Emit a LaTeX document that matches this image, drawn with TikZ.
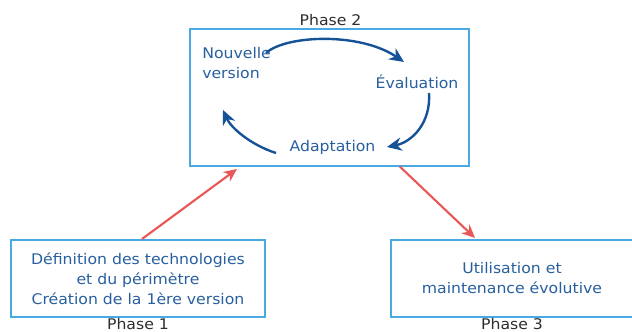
\documentclass[tikz,border=0pt]{standalone}
\usepackage{fontspec}
\setmainfont[FakeStretch=1.07]{DejaVu Sans}
\usetikzlibrary{arrows.meta}
\definecolor{boxblue}{RGB}{72,170,225}
\definecolor{txtblue}{RGB}{40,95,158}
\definecolor{cycblue}{RGB}{22,82,152}
\definecolor{linkred}{RGB}{232,88,88}
\definecolor{lblgray}{RGB}{45,45,45}
\newcommand{\textsize}{\fontsize{11}{15}\selectfont}
\newcommand{\phaselabel}[3]{\node[phaselbl] (#1) at (#2) {#3};}
\tikzset{
  phasebox/.style={draw=boxblue, line width=1.5pt, text=txtblue, align=center, inner sep=0pt, font=\textsize},
  steptext/.style={text=txtblue, inner sep=0pt, font=\textsize},
  phaselbl/.style={text=lblgray, inner sep=0pt, anchor=base, font=\textsize},
  cycarrow/.style={draw=cycblue, line width=1.8pt, -{Stealth[length=11pt,width=10pt]}},
  linkarrow/.style={draw=linkred, line width=1.6pt, -{Stealth[length=10pt,width=9pt]}}
}

\begin{document}
\begin{tikzpicture}[x=0.75pt,y=-0.75pt]
\useasboundingbox (0,0) rectangle (632,332);
\node[phasebox, minimum width=208.9pt, minimum height=102.4pt] (phasetwo) at (329.75,97.25) {};
\node[phasebox, minimum width=190.5pt, minimum height=57.75pt] (phaseone) at (138,278.5)
  {Définition des technologies\\et du périmètre\\Création de la 1ère version};
\node[phasebox, minimum width=181.5pt, minimum height=57.75pt] (phasethree) at (512,278.5)
  {Utilisation et\\maintenance évolutive};
\phaselabel{lbltwo}{330.5,25.5}{Phase 2}
\phaselabel{lblone}{138,329}{Phase 1}
\phaselabel{lblthree}{512,329}{Phase 3}
% cycle of phase 2
\node[steptext, align=left, anchor=base west] (nouv) at (202,78.3) {Nouvelle\\version};
\node[steptext, anchor=base] (eval) at (417,88.3) {Évaluation};
\node[steptext, anchor=base] (adapt) at (332.5,151.7) {Adaptation};
\draw[cycarrow] ([shift={(64,-25.3)}]nouv.base west) .. controls +(20,-18) and +(-44,-30) .. ([shift={(-13,-26.3)}]eval.base);
\draw[cycarrow] ([shift={(12,4.7)}]eval.base) .. controls +(2,30) and +(25,-5) .. ([shift={(54.5,-4.7)}]adapt.base);
\draw[cycarrow] ([shift={(-56.5,1.3)}]adapt.base) .. controls +(-25,-8) and +(8,18) .. ([shift={(21,31.7)}]nouv.base west);
% links between phases
\draw[linkarrow] ([shift={(4,0)}]phaseone.north) -- ([shift={(-92.75,2.5)}]phasetwo.south);
\draw[linkarrow] ([shift={(70,0)}]phasetwo.south) -- ([shift={(-37,-1)}]phasethree.north);
\end{tikzpicture}
\end{document}
